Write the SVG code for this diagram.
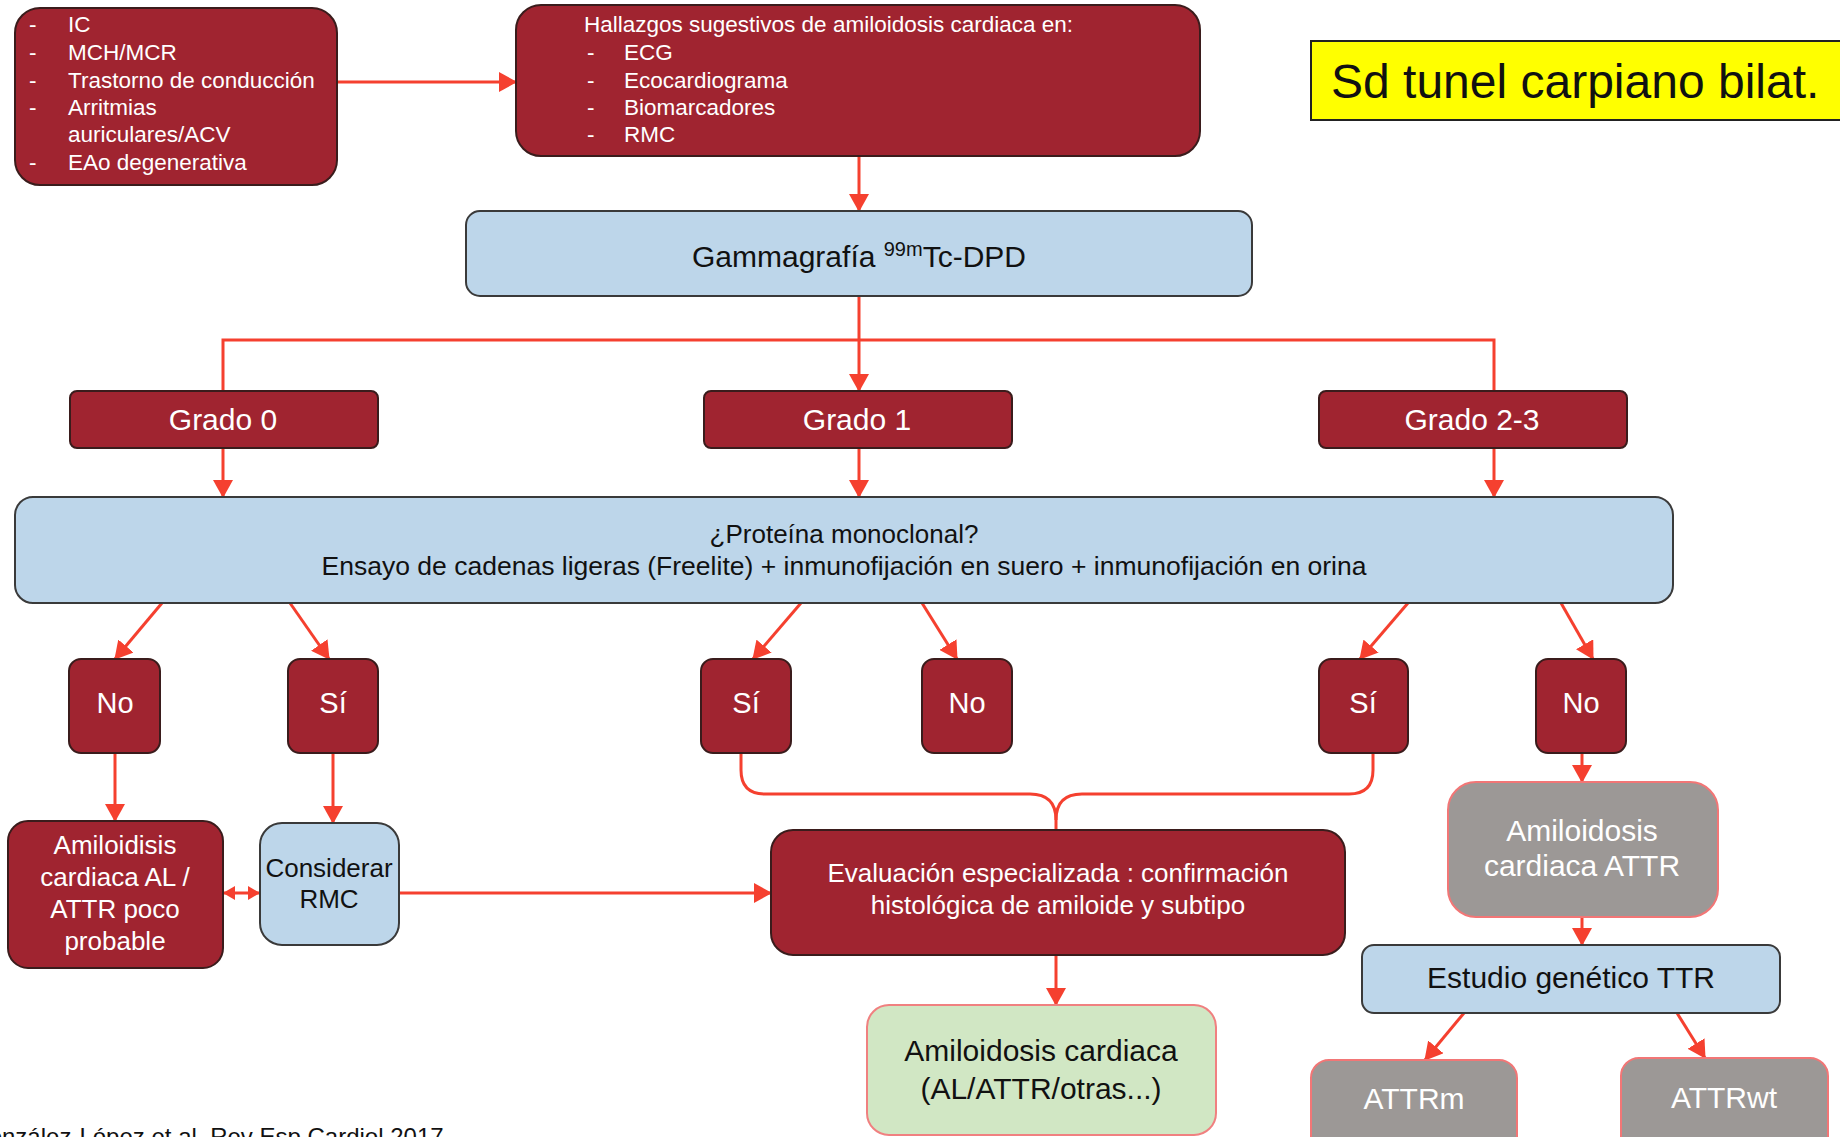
<svg xmlns="http://www.w3.org/2000/svg" width="1840" height="1137" viewBox="0 0 1840 1137">
<defs>
<style>
text{font-family:"Liberation Sans",Arial,sans-serif;}
.red{fill:#a02430;stroke:#3a1c1c;stroke-width:2;}
.blue{fill:#bdd6ea;stroke:#3a3a3a;stroke-width:2;}
.grey{fill:#9c9896;stroke:#f27676;stroke-width:2;}
.green{fill:#d1e7c4;stroke:#f08080;stroke-width:2;}
.w{fill:#ffffff;}
.k{fill:#111111;}
.c{text-anchor:middle;}
.conn{fill:none;stroke:#f5402f;stroke-width:3;}
</style>
<marker id="ah" viewBox="0 0 18 20" refX="17" refY="10" markerWidth="18" markerHeight="20" markerUnits="userSpaceOnUse" orient="auto">
<path d="M0,0 L18,10 L0,20 z" fill="#f5402f"/>
</marker>
<marker id="ahs" viewBox="0 0 12 14" refX="11" refY="7" markerWidth="12" markerHeight="14" markerUnits="userSpaceOnUse" orient="auto-start-reverse">
<path d="M0,0 L12,7 L0,14 z" fill="#f5402f"/>
</marker>
</defs>
<rect width="1840" height="1137" fill="#ffffff"/>

<g id="connectors">
<path class="conn" d="M337,82 L516,82" marker-end="url(#ah)"/>
<path class="conn" d="M859,157 L859,211" marker-end="url(#ah)"/>
<path class="conn" d="M859,296 L859,391" marker-end="url(#ah)"/>
<path class="conn" d="M223,391 L223,340 L1494,340 L1494,391"/>
<path class="conn" d="M223,448 L223,497" marker-end="url(#ah)"/>
<path class="conn" d="M859,448 L859,497" marker-end="url(#ah)"/>
<path class="conn" d="M1494,448 L1494,497" marker-end="url(#ah)"/>
<path class="conn" d="M162,603 L115,659" marker-end="url(#ah)"/>
<path class="conn" d="M290,603 L329,659" marker-end="url(#ah)"/>
<path class="conn" d="M801,603 L753,659" marker-end="url(#ah)"/>
<path class="conn" d="M922,603 L957,659" marker-end="url(#ah)"/>
<path class="conn" d="M1408,603 L1360,659" marker-end="url(#ah)"/>
<path class="conn" d="M1561,603 L1593,659" marker-end="url(#ah)"/>
<path class="conn" d="M115,753 L115,821" marker-end="url(#ah)"/>
<path class="conn" d="M333,753 L333,823" marker-end="url(#ah)"/>
<path class="conn" d="M224,893 L259,893" marker-start="url(#ahs)" marker-end="url(#ahs)"/>
<path class="conn" d="M399,893 L771,893" marker-end="url(#ah)"/>
<path class="conn" d="M741,753 L741,770 Q741,794 765,794 L1030,794 Q1056,794 1056,820 L1056,830"/>
<path class="conn" d="M1373,753 L1373,770 Q1373,794 1349,794 L1082,794 Q1056,794 1056,820"/>
<path class="conn" d="M1056,955 L1056,1005" marker-end="url(#ah)"/>
<path class="conn" d="M1582,753 L1582,782" marker-end="url(#ah)"/>
<path class="conn" d="M1582,917 L1582,945" marker-end="url(#ah)"/>
<path class="conn" d="M1464,1013 L1425,1060" marker-end="url(#ah)"/>
<path class="conn" d="M1677,1013 L1705,1058" marker-end="url(#ah)"/>
</g>

<g id="node-sintomas">
<rect class="red" x="15" y="8" width="322" height="177" rx="25"/>
<g class="w" font-size="22.5">
<text x="29" y="32">-</text><text x="68" y="32">IC</text>
<text x="29" y="60">-</text><text x="68" y="60">MCH/MCR</text>
<text x="29" y="88">-</text><text x="68" y="88">Trastorno de conducción</text>
<text x="29" y="115">-</text><text x="68" y="115">Arritmias</text>
<text x="68" y="142">auriculares/ACV</text>
<text x="29" y="170">-</text><text x="68" y="170">EAo degenerativa</text>
</g>
</g>

<g id="node-hallazgos">
<rect class="red" x="516" y="5" width="684" height="151" rx="25"/>
<g class="w" font-size="22.5">
<text x="584" y="32">Hallazgos sugestivos de amiloidosis cardiaca en:</text>
<text x="587" y="60">-</text><text x="624" y="60">ECG</text>
<text x="587" y="88">-</text><text x="624" y="88">Ecocardiograma</text>
<text x="587" y="115">-</text><text x="624" y="115">Biomarcadores</text>
<text x="587" y="142">-</text><text x="624" y="142">RMC</text>
</g>
</g>

<g id="node-tunel">
<rect x="1311" y="41" width="545" height="79" fill="#ffff00" stroke="#222222" stroke-width="2"/>
<text x="1331" y="98" font-size="48" class="k">Sd tunel carpiano bilat.</text>
</g>

<g id="node-gammagrafia">
<rect class="blue" x="466" y="211" width="786" height="85" rx="14"/>
<text x="859" y="267" font-size="30" class="k c">Gammagrafía <tspan font-size="20" dy="-11">99m</tspan><tspan dy="11">Tc-DPD</tspan></text>
</g>

<g id="node-grado0">
<rect class="red" x="70" y="391" width="308" height="57" rx="7"/>
<text x="223" y="430" font-size="30" class="w c">Grado 0</text>
</g>
<g id="node-grado1">
<rect class="red" x="704" y="391" width="308" height="57" rx="7"/>
<text x="857" y="430" font-size="30" class="w c">Grado 1</text>
</g>
<g id="node-grado23">
<rect class="red" x="1319" y="391" width="308" height="57" rx="7"/>
<text x="1472" y="430" font-size="30" class="w c">Grado 2-3</text>
</g>

<g id="node-proteina">
<rect class="blue" x="15" y="497" width="1658" height="106" rx="18"/>
<text x="844" y="543" font-size="26" class="k c">¿Proteína monoclonal?</text>
<text x="844" y="575" font-size="26" class="k c" textLength="1045" lengthAdjust="spacingAndGlyphs">Ensayo de cadenas ligeras (Freelite) + inmunofijación en suero + inmunofijación en orina</text>
</g>

<g id="node-no1">
<rect class="red" x="69" y="659" width="91" height="94" rx="12"/>
<text x="115" y="713" font-size="29" class="w c">No</text>
</g>
<g id="node-si1">
<rect class="red" x="288" y="659" width="90" height="94" rx="12"/>
<text x="333" y="713" font-size="29" class="w c">Sí</text>
</g>
<g id="node-si2">
<rect class="red" x="701" y="659" width="90" height="94" rx="12"/>
<text x="746" y="713" font-size="29" class="w c">Sí</text>
</g>
<g id="node-no2">
<rect class="red" x="922" y="659" width="90" height="94" rx="12"/>
<text x="967" y="713" font-size="29" class="w c">No</text>
</g>
<g id="node-si3">
<rect class="red" x="1319" y="659" width="89" height="94" rx="12"/>
<text x="1363" y="713" font-size="29" class="w c">Sí</text>
</g>
<g id="node-no3">
<rect class="red" x="1536" y="659" width="90" height="94" rx="12"/>
<text x="1581" y="713" font-size="29" class="w c">No</text>
</g>

<g id="node-poco-probable">
<rect class="red" x="8" y="821" width="215" height="147" rx="20"/>
<g font-size="26" class="w c">
<text x="115" y="854">Amiloidisis</text>
<text x="115" y="886">cardiaca AL /</text>
<text x="115" y="918">ATTR poco</text>
<text x="115" y="950">probable</text>
</g>
</g>

<g id="node-considerar">
<rect class="blue" x="260" y="823" width="139" height="122" rx="22"/>
<text x="329" y="877" font-size="26" class="k c">Considerar</text>
<text x="329" y="908" font-size="26" class="k c">RMC</text>
</g>

<g id="node-evaluacion">
<rect class="red" x="771" y="830" width="574" height="125" rx="22"/>
<text x="1058" y="882" font-size="26" class="w c">Evaluación especializada : confirmación</text>
<text x="1058" y="914" font-size="26" class="w c">histológica de amiloide y subtipo</text>
</g>

<g id="node-amiloidosis-cardiaca">
<rect class="green" x="867" y="1005" width="349" height="130" rx="22"/>
<text x="1041" y="1061" font-size="30" class="k c">Amiloidosis cardiaca</text>
<text x="1041" y="1099" font-size="30" class="k c">(AL/ATTR/otras...)</text>
</g>

<g id="node-attr">
<rect class="grey" x="1448" y="782" width="270" height="135" rx="28"/>
<text x="1582" y="841" font-size="30" class="w c">Amiloidosis</text>
<text x="1582" y="876" font-size="30" class="w c">cardiaca ATTR</text>
</g>

<g id="node-estudio">
<rect class="blue" x="1362" y="945" width="418" height="68" rx="12"/>
<text x="1571" y="988" font-size="30" class="k c">Estudio genético TTR</text>
</g>

<g id="node-attrm">
<rect class="grey" x="1311" y="1060" width="206" height="100" rx="18"/>
<text x="1414" y="1109" font-size="30" class="w c">ATTRm</text>
</g>
<g id="node-attrwt">
<rect class="grey" x="1621" y="1058" width="207" height="100" rx="18"/>
<text x="1724" y="1108" font-size="30" class="w c">ATTRwt</text>
</g>

<text x="-30" y="1145" font-size="24" class="k">González-López et al. Rev Esp Cardiol 2017</text>
</svg>
